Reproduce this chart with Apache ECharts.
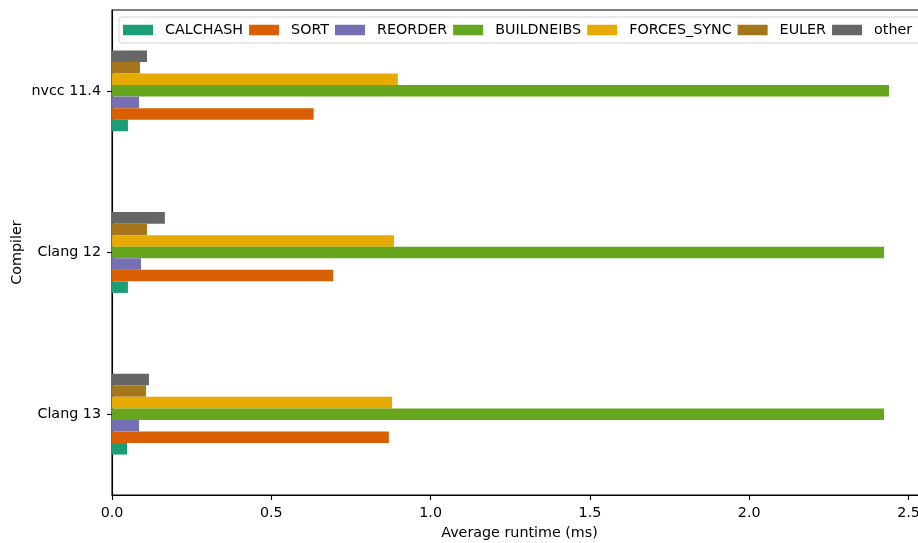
<!DOCTYPE html>
<html>
<head>
<meta charset="utf-8">
<script src="https://cdn.jsdelivr.net/npm/echarts@6/dist/echarts.min.js"></script>
<style>
  html, body { margin: 0; padding: 0; background: #ffffff; }
  #chart { width: 918px; height: 543px; }
</style>
</head>
<body>
<div id="chart"></div>
<script>
// Compilers, bottom to top
const compilers = ['Clang 13', 'Clang 12', 'nvcc 11.4'];
// Kernel phases, in legend order
const kernels = ['CALCHASH', 'SORT', 'REORDER', 'BUILDNEIBS', 'FORCES_SYNC', 'EULER', 'other'];

// Average runtime per phase (ms), one value per compiler
const calchash   = [0.047, 0.050, 0.050];
const sortTimes  = [0.869, 0.694, 0.633];
const reorder    = [0.085, 0.091, 0.085];
const buildneibs = [2.423, 2.423, 2.439];
const forcesSync = [0.879, 0.885, 0.897];
const euler      = [0.107, 0.110, 0.088];
const other      = [0.116, 0.166, 0.110];

const runtimeTicks = [0, 0.5, 1.0, 1.5, 2.0, 2.5];

const values = [calchash, sortTimes, reorder, buildneibs, forcesSync, euler, other];
const palette = ['#1b9e77', '#d95f02', '#7570b3', '#66a61e', '#e6ab02', '#a6761d', '#666666'];

const font = 'DejaVu Sans';
const fontSize = 14.3;

// Horizontal bars stack their group from the top down, so the series are
// added last-first to put CALCHASH at the bottom of each group.
const series = kernels.map((name, i) => ({
  name: name,
  type: 'bar',
  data: values[i],
  itemStyle: { color: palette[i] },
  barGap: '0%',
  barCategoryGap: '50%',
  emphasis: { disabled: true }
})).reverse();

const chart = echarts.init(document.getElementById('chart'), null, { renderer: 'canvas' });
chart.setOption({
  animation: false,
  backgroundColor: '#ffffff',
  textStyle: { fontFamily: font },
  grid: {
    left: 112, top: 10, width: 815, height: 485,
    outerBoundsMode: 'none',
    containLabel: false,
    show: true, borderColor: '#000000', borderWidth: 1.1, backgroundColor: 'transparent'
  },
  legend: {
    data: kernels,
    left: 119, top: 17,
    width: 880,
    orient: 'horizontal',
    padding: [6, 12, 6, 4],
    itemWidth: 30, itemHeight: 10.5,
    itemGap: 6,
    icon: 'rect',
    borderColor: '#d4d4d4', borderWidth: 1, borderRadius: 3,
    backgroundColor: 'rgba(255,255,255,0.8)',
    selectedMode: false,
    textStyle: { fontFamily: font, fontSize: fontSize, color: '#000000', padding: [0, 0, 0, 7], lineHeight: 14 }
  },
  xAxis: {
    type: 'value',
    min: 0, max: 2.558,
    name: 'Average runtime (ms)',
    nameLocation: 'middle',
    nameGap: 31,
    nameMoveOverlap: false,
    nameTextStyle: { fontFamily: font, fontSize: fontSize, color: '#000000' },
    splitLine: { show: false },
    axisLine: { show: true, lineStyle: { color: '#000000', width: 1.1 } },
    axisTick: { show: true, length: 5, lineStyle: { color: '#000000', width: 1.1 }, customValues: runtimeTicks },
    axisLabel: {
      customValues: runtimeTicks,
      formatter: v => v.toFixed(1),
      margin: 11,
      fontFamily: font, fontSize: fontSize, color: '#000000'
    }
  },
  yAxis: {
    type: 'category',
    data: compilers,
    name: 'Compiler',
    nameLocation: 'middle',
    nameGap: 88,
    nameMoveOverlap: false,
    nameTextStyle: { fontFamily: font, fontSize: fontSize, color: '#000000' },
    axisLine: { show: true, lineStyle: { color: '#000000', width: 1.1 } },
    axisTick: { show: true, length: 5, alignWithLabel: true, lineStyle: { color: '#000000', width: 1.1 } },
    axisLabel: { margin: 11, fontFamily: font, fontSize: fontSize, color: '#000000' },
    splitLine: { show: false }
  },
  series: series
});
</script>
</body>
</html>
